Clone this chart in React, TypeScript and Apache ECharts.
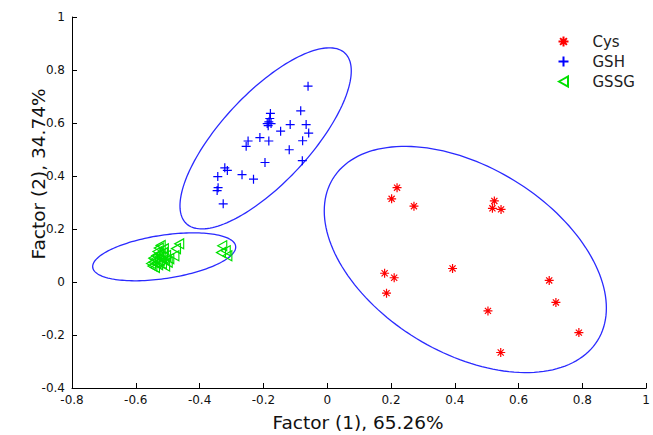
import React, { useEffect, useRef } from "react";
import * as echarts from "echarts";

const seriesNames = ["Cys", "GSH", "GSSG"];

const cysPoints = [
  [0.219, 0.356], [0.202, 0.314], [0.272, 0.286], [0.524, 0.306], [0.518, 0.278],
  [0.545, 0.274], [0.18, 0.033], [0.21, 0.016], [0.186, -0.042], [0.393, 0.051],
  [0.696, 0.006], [0.717, -0.077], [0.504, -0.109], [0.789, -0.191], [0.544, -0.266],
];

const gshPoints = [
  [-0.06, 0.739], [-0.083, 0.646], [-0.178, 0.636], [-0.18, 0.617], [-0.183, 0.604],
  [-0.188, 0.598], [-0.176, 0.598], [-0.185, 0.59], [-0.146, 0.569], [-0.116, 0.594],
  [-0.066, 0.594], [-0.058, 0.562], [-0.077, 0.533], [-0.183, 0.532], [-0.211, 0.545],
  [-0.248, 0.532], [-0.254, 0.512], [-0.119, 0.499], [-0.078, 0.458], [-0.195, 0.451],
  [-0.321, 0.431], [-0.313, 0.421], [-0.343, 0.398], [-0.267, 0.405], [-0.231, 0.388],
  [-0.342, 0.356], [-0.345, 0.345], [-0.326, 0.295],
];

const gssgPoints = [
  [-0.464, 0.144], [-0.474, 0.126], [-0.479, 0.099], [-0.495, 0.088],
  [-0.329, 0.137], [-0.318, 0.118], [-0.313, 0.099], [-0.333, 0.111],
  [-0.548, 0.06], [-0.545, 0.075], [-0.54, 0.085], [-0.552, 0.07], [-0.536, 0.1],
  [-0.532, 0.115], [-0.528, 0.128], [-0.522, 0.138], [-0.54, 0.055], [-0.53, 0.065],
  [-0.525, 0.08], [-0.52, 0.095], [-0.515, 0.11], [-0.512, 0.125], [-0.535, 0.072],
  [-0.527, 0.105], [-0.518, 0.07], [-0.51, 0.085], [-0.505, 0.1], [-0.545, 0.09],
  [-0.5, 0.075], [-0.508, 0.06],
];

// confidence ellipses: centre and two conjugate semi-axis vectors (data units)
const ellipseCenters = [[-0.193, 0.542], [-0.511, 0.095], [0.433, 0.085]];
const ellipseAxisU = [[0.2685, 0.2546], [0.2242, 0.0368], [0.4422, -0.1833]];
const ellipseAxisV = [[0, 0.2278], [0, 0.0826], [0, 0.3855]];

const xTitle = "Factor (1), 65.26%";
const yTitle = "Factor (2), 34.74%";

const FONT = "'DejaVu Sans', sans-serif";

const SYM_STAR = "path://M5 0L5 10M0 5L10 5M1.6 1.6L8.4 8.4M8.4 1.6L1.6 8.4";
const SYM_PLUS = "path://M5 0L5 10M0 5L10 5";
const SYM_TRI = "path://M0 5L9 0L9 10Z";

export default function App() {
  const ref = useRef<HTMLDivElement>(null);

  useEffect(() => {
    document.body.style.margin = "0";
    const chart = echarts.init(ref.current!, null, { renderer: "svg" });

    const scatter = (name: string, data: number[][], color: string, symbol: string, size: number | number[]) => ({
      name,
      type: "scatter",
      data,
      symbol,
      symbolSize: size,
      color,
      itemStyle: { color: "none", borderColor: color, borderWidth: 1.2, opacity: 1 },
      emphasis: { disabled: true },
      z: 3,
    });

    const option: any = {
      animation: false,
      backgroundColor: "#ffffff",
      grid: { left: 72, right: 3, top: 17, bottom: 47, containLabel: false },
      xAxis: {
        type: "value",
        min: -0.8,
        max: 1,
        interval: 0.2,
        axisLine: { onZero: false, lineStyle: { color: "#000", width: 1 } },
        axisTick: { inside: true, length: 5, lineStyle: { color: "#000" } },
        axisLabel: { color: "#111", fontSize: 12, fontFamily: FONT, margin: 6, showMinLabel: true, showMaxLabel: true },
        splitLine: { show: false },
      },
      yAxis: {
        type: "value",
        min: -0.4,
        max: 1,
        interval: 0.2,
        axisLine: { show: true, onZero: false, lineStyle: { color: "#000", width: 1 } },
        axisTick: { show: true, inside: true, length: 5, lineStyle: { color: "#000" } },
        axisLabel: { color: "#111", fontSize: 12, fontFamily: FONT, margin: 7, showMinLabel: true, showMaxLabel: true },
        splitLine: { show: false },
      },
      legend: {
        data: seriesNames,
        orient: "vertical",
        left: 551,
        top: 29,
        itemWidth: 10,
        itemHeight: 10,
        itemGap: 5,
        selectedMode: false,
        textStyle: { fontSize: 15, fontFamily: FONT, color: "#222", padding: [0, 0, 0, 19] },
      },
      graphic: [
        {
          type: "text",
          x: 358,
          y: 422,
          style: { text: xTitle, fontSize: 18.5, fontFamily: FONT, fill: "#111", align: "center", verticalAlign: "middle" },
        },
        {
          type: "text",
          x: 38.5,
          y: 174,
          rotation: Math.PI / 2,
          style: { text: yTitle, fontSize: 18.5, fontFamily: FONT, fill: "#111", align: "center", verticalAlign: "middle" },
        },
      ],
      series: [
        {
          type: "custom",
          name: "ellipses",
          coordinateSystem: "cartesian2d",
          silent: true,
          data: ellipseCenters.map((c, i) => [c[0], c[1], i]),
          renderItem: (params: any, api: any) => {
            const i = params.dataIndex;
            const c = ellipseCenters[i];
            const u = ellipseAxisU[i];
            const v = ellipseAxisV[i];
            const pts: number[][] = [];
            const N = 160;
            for (let k = 0; k <= N; k++) {
              const t = (2 * Math.PI * k) / N;
              const x = c[0] + u[0] * Math.cos(t) + v[0] * Math.sin(t);
              const y = c[1] + u[1] * Math.cos(t) + v[1] * Math.sin(t);
              pts.push(api.coord([x, y]));
            }
            return {
              type: "polygon",
              shape: { points: pts },
              style: { fill: "none", stroke: "#2a2aff", lineWidth: 1.3 },
            };
          },
          z: 2,
        },
        scatter(seriesNames[0], cysPoints, "#ff0000", SYM_STAR, 9),
        scatter(seriesNames[1], gshPoints, "#0000ff", SYM_PLUS, 9),
        scatter(seriesNames[2], gssgPoints, "#00e000", SYM_TRI, [9, 10]),
      ],
    };

    chart.setOption(option);
    return () => chart.dispose();
  }, []);

  return <div ref={ref} style={{ width: 653, height: 435 }} />;
}
